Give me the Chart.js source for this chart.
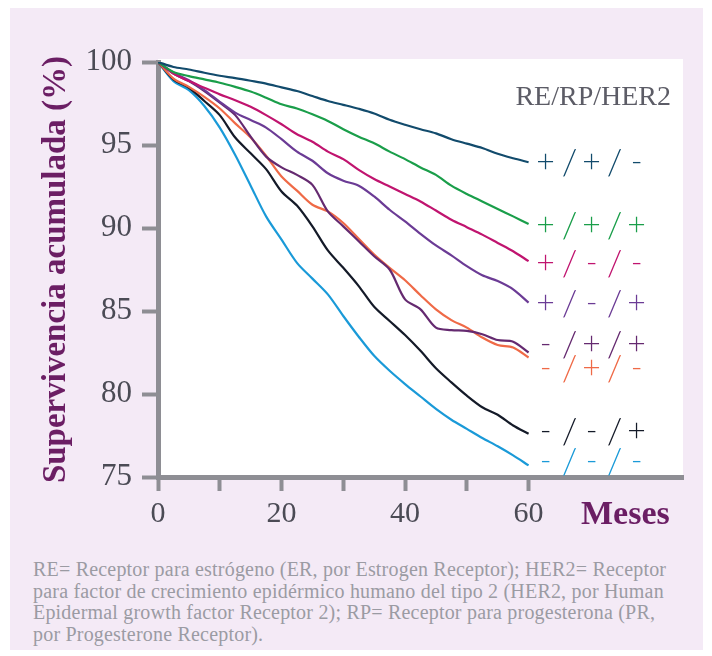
<!DOCTYPE html>
<html>
<head>
<meta charset="utf-8">
<script src="https://cdn.jsdelivr.net/npm/chart.js@4.4.1/dist/chart.umd.min.js"></script>
<style>
  html, body { margin: 0; padding: 0; background: #fff; }
  #panel { position: absolute; left: 10px; top: 8px; width: 693px; height: 642px; background: #f4eaf6; }
  #wrap { position: absolute; left: 0; top: 0; width: 712px; height: 540px; }
  #note { position: absolute; left: 33px; top: 559px; font-family: 'Liberation Serif', serif; font-size: 20px; letter-spacing: 0.2px; line-height: 21.7px; color: #9b9ba3; white-space: nowrap; }
</style>
</head>
<body>
<div id="panel"></div>
<div id="wrap"><canvas id="my-chart" width="712" height="540"></canvas></div>
<div id="note">RE= Receptor para estrógeno (ER, por Estrogen Receptor); HER2= Receptor<br>para factor de crecimiento epidérmico humano del tipo 2 (HER2, por Human<br>Epidermal growth factor Receptor 2); RP= Receptor para progesterona (PR,<br>por Progesterone Receptor).</div>
<script>
//Canvas Element for chart.js
let ctx = document.getElementById('my-chart');

//Data
let months = [0, 2.5, 5, 7.5, 10, 12.5, 15, 17.5, 20, 22.5, 25, 27.5, 30, 32.5, 35, 37.5, 40, 42.5, 45, 47.5, 50, 52.5, 55, 57.5, 60];

let groupNames = ['+/+/-', '+/+/+', '+/-/-', '+/-/+', '-/+/+', '-/+/-', '-/-/+', '-/-/-'];

let posPosNeg = [100, 99.7, 99.55, 99.35, 99.17, 99.03, 98.87, 98.7, 98.47, 98.25, 97.95, 97.65, 97.42, 97.18, 96.9, 96.52, 96.22, 95.95, 95.7, 95.35, 95.08, 94.82, 94.47, 94.2, 93.96];
let posPosPos = [100, 99.4, 99.15, 98.95, 98.75, 98.5, 98.22, 97.85, 97.45, 97.2, 96.85, 96.45, 95.95, 95.5, 95.1, 94.6, 94.15, 93.65, 93.2, 92.55, 92.05, 91.6, 91.15, 90.7, 90.24];
let posNegNeg = [100, 99.3, 98.85, 98.45, 98.05, 97.7, 97.3, 96.8, 96.25, 95.65, 95.2, 94.6, 94.15, 93.5, 92.95, 92.5, 92.05, 91.6, 91.05, 90.5, 90.05, 89.6, 89.1, 88.6, 88.0];
let posNegPos = [100, 99.35, 98.9, 98.3, 97.6, 96.95, 96.5, 96.05, 95.35, 94.6, 94.05, 93.3, 92.85, 92.55, 91.9, 91.1, 90.4, 89.65, 88.95, 88.35, 87.7, 87.15, 86.8, 86.3, 85.5];
let negPosPos = [100, 99.3, 98.85, 98.25, 97.55, 96.8, 95.5, 94.3, 93.65, 93.2, 92.6, 91.0, 90.1, 89.2, 88.3, 87.5, 85.7, 85.1, 84.0, 83.85, 83.8, 83.6, 83.25, 83.15, 82.5];
let negPosNeg = [100, 99.0, 98.5, 97.9, 97.2, 96.3, 95.45, 94.35, 93.1, 92.25, 91.4, 91.0, 90.3, 89.35, 88.4, 87.6, 86.85, 85.95, 85.1, 84.45, 84.0, 83.4, 82.95, 82.8, 82.2];
let negNegPos = [100, 98.95, 98.45, 97.65, 96.8, 95.45, 94.5, 93.55, 92.2, 91.35, 90.1, 88.65, 87.6, 86.5, 85.25, 84.4, 83.55, 82.6, 81.55, 80.7, 79.9, 79.2, 78.75, 78.1, 77.6];
let negNegNeg = [100, 98.85, 98.3, 97.35, 96.05, 94.4, 92.55, 90.7, 89.3, 87.9, 86.95, 86.0, 84.7, 83.45, 82.3, 81.4, 80.6, 79.85, 79.1, 78.45, 77.9, 77.35, 76.85, 76.3, 75.7];

let allSeries = [posPosNeg, posPosPos, posNegNeg, posNegPos, negPosPos, negPosNeg, negNegPos, negNegNeg];
let lineColors = ['#124b6c', '#1a9e4a', '#c0146f', '#6b3b95', '#652a70', '#ef6a47', '#141a28', '#1a9ad8'];

let yTicks = [75, 80, 85, 90, 95, 100];
let xTicks = [0, 10, 20, 30, 40, 50, 60];
let xLabels = [0, 20, 40, 60];

const axisGray = '#8e8e94';

//white plot box + text at the right
const sideLabels = {
  id: 'sideLabels',
  beforeDraw(chart) {
    const c = chart.ctx;
    const a = chart.chartArea;
    c.save();
    c.fillStyle = '#ffffff';
    c.fillRect(a.left, a.top - 3, a.right - a.left, a.bottom - a.top + 3);
    c.restore();
  },
  afterDraw(chart) {
    const c = chart.ctx;
    const xs = chart.scales.x;
    const ys = chart.scales.y;
    // row heights in data units (labels are spread out, not on the line ends)
    const rowLevels = [93.98, 90.18, 87.89, 85.48, 83.01, 81.57, 77.77, 75.96];
    const offsets = [17, 41, 63, 86, 108];
    const x0 = xs.getPixelForValue(60);
    c.save();
    c.fillStyle = '#5c5c66';
    c.font = '28px "Liberation Serif"';
    c.textAlign = 'right';
    c.textBaseline = 'alphabetic';
    c.fillText('RE/RP/HER2', 671, 105);

    c.textAlign = 'center';
    c.textBaseline = 'middle';
    for (let i = 0; i < groupNames.length; i++) {
      let yy = ys.getPixelForValue(rowLevels[i]);
      let parts = groupNames[i].split('');
      c.fillStyle = lineColors[i];
      for (let j = 0; j < parts.length; j++) {
        // slashes come out taller and thinner in the original
        c.font = parts[j] === '/' ? '300 36px Lato' : '300 32px Lato';
        c.fillText(parts[j], x0 + offsets[j], parts[j] === '/' ? yy + 1 : yy);
      }
    }

    c.fillStyle = '#6b1e64';
    c.font = 'bold 34px "Liberation Serif"';
    c.textAlign = 'left';
    c.textBaseline = 'alphabetic';
    c.fillText('Meses', 581, 524);
    c.restore();
  }
};

let datasets = [];
for (let i = 0; i < allSeries.length; i++) {
  datasets.push({
    label: groupNames[i],
    data: months.map((m, k) => ({ x: m, y: allSeries[i][k] })),
    borderColor: lineColors[i],
    borderWidth: 2.2,
    pointRadius: 0,
    tension: 0.3,
    fill: false
  });
}

let chartObject = {
  type: 'line',
  data: { datasets: datasets },
  options: {
    responsive: false,
    animation: false,
    layout: { padding: { left: 0, top: 62, right: 29, bottom: 0 } },
    plugins: { legend: { display: false }, tooltip: { enabled: false } },
    scales: {
      x: {
        type: 'linear',
        min: 0,
        max: 85,
        afterFit(s) { s.height = 63; },
        afterBuildTicks(s) { s.ticks = xTicks.map(v => ({ value: v })); },
        ticks: {
          autoSkip: false,
          maxRotation: 0,
          padding: 5,
          color: '#4b4b55',
          font: { family: 'Liberation Serif', size: 30 },
          callback: v => (xLabels.includes(v) ? String(v) : '')
        },
        grid: { drawOnChartArea: false, drawTicks: true, tickLength: 14, tickWidth: 4, tickColor: axisGray },
        border: { display: true, color: axisGray, width: 5 }
      },
      y: {
        min: 75,
        max: 100,
        afterFit(s) { s.width = 158; },
        afterBuildTicks(s) { s.ticks = yTicks.map(v => ({ value: v })); },
        ticks: {
          padding: 10,
          color: '#4b4b55',
          font: { family: 'Liberation Serif', size: 31 }
        },
        grid: { drawOnChartArea: false, drawTicks: true, tickLength: 16, tickWidth: 4, tickColor: axisGray },
        border: { display: true, color: axisGray, width: 5 },
        title: {
          display: true,
          text: 'Supervivencia acumulada (%)',
          color: '#6b1e64',
          font: { family: 'Liberation Serif', size: 33, weight: 'bold' },
          padding: { top: 37, bottom: 0 }
        }
      }
    }
  },
  plugins: [sideLabels]
};

const myChart = new Chart(ctx, chartObject); //eslint-disable-line
</script>
</body>
</html>
